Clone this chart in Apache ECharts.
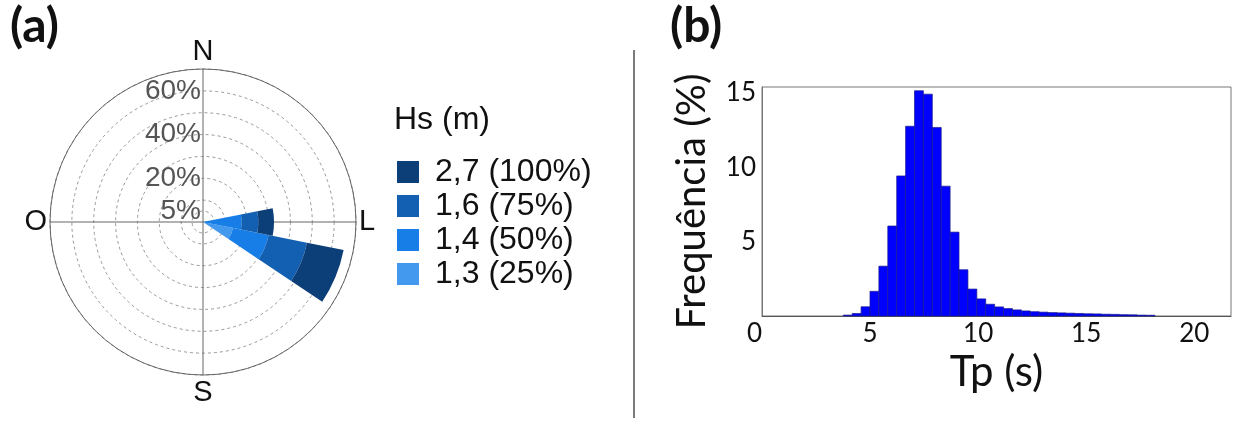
<!DOCTYPE html>
<html>
<head>
<meta charset="utf-8">
<script src="https://cdn.jsdelivr.net/npm/echarts@6/dist/echarts.min.js"></script>
<style>
    html, body { margin: 0; padding: 0; background: #fff; }
    #chart { width: 1243px; height: 431px; }
</style>
</head>
<body>
<div id="chart"></div>
<script>
// (a) rosa de ondas - direções e classes de Hs (% de ocorrência)
const directions = ['N', 'NNE', 'NE', 'ENE', 'E', 'ESE', 'SE', 'SSE', 'S', 'SSW', 'SW', 'WSW', 'W', 'WNW', 'NW', 'NNW'];
const hsClasses = ['1,3 (25%)', '1,4 (50%)', '1,6 (75%)', '2,7 (100%)'];
const hs13 = [0, 0, 0, 0, 1.0, 14.0, 0, 0, 0, 0, 0, 0, 0, 0, 0, 0];
const hs14 = [0, 0, 0, 0, 16.7, 16.6, 0, 0, 0, 0, 0, 0, 0, 0, 0, 0];
const hs16 = [0, 0, 0, 0, 7.6, 17.9, 0, 0, 0, 0, 0, 0, 0, 0, 0, 0];
const hs27 = [0, 0, 0, 0, 7.2, 17.1, 0, 0, 0, 0, 0, 0, 0, 0, 0, 0];
const radiusLabels = [5, 20, 40, 60];
const compassLabels = ['N', 'L', 'S', 'O'];

// (b) histograma de Tp
const tpStart = 3.76;
const tpBinWidth = 0.412;
const tpFreq = [0.06, 0.17, 0.62, 1.66, 3.35, 6.05, 9.42, 12.76, 15.15, 14.92,
    12.68, 8.73, 5.64, 3.11, 1.81, 1.15, 0.79, 0.61, 0.50, 0.41,
    0.34, 0.29, 0.26, 0.23, 0.21, 0.19, 0.17, 0.15, 0.14, 0.12,
    0.11, 0.09, 0.08, 0.06, 0.05];
const xTicks = [0, 5, 10, 15, 20];
const yTicks = [5, 10, 15];

const hsColors = {
    '1,3 (25%)': '#4299ee',
    '1,4 (50%)': '#167ee6',
    '1,6 (75%)': '#1360b2',
    '2,7 (100%)': '#0c3e78'
};
const hsValues = [hs13, hs14, hs16, hs27];

const roseCenter = [203, 222];
const roseRadius = 153;
const roseMax = 70;

const tpData = tpFreq.map(function (v, i) {
    return [tpStart + i * tpBinWidth, tpStart + (i + 1) * tpBinWidth, v];
});

let myChart = echarts.init(document.getElementById('chart'));

const option = {
    backgroundColor: '#fff',
    animation: false,
    title: [
        {text: '(a)', left: 5, top: -2, textStyle: {fontFamily: 'Lato', fontWeight: 'bold', fontSize: 48, color: '#111'}},
        {text: '(b)', left: 665, top: -2, textStyle: {fontFamily: 'Lato', fontWeight: 'bold', fontSize: 48, color: '#111'}},
        {text: 'Hs (m)', left: 389, top: 99, textStyle: {fontFamily: 'Liberation Sans', fontWeight: 'normal', fontSize: 32, color: '#111'}}
    ],
    legend: {
        data: hsClasses.slice().reverse(),
        orient: 'vertical',
        left: 392,
        top: 151,
        icon: 'rect',
        itemWidth: 22,
        itemHeight: 22,
        itemGap: 2,
        textStyle: {fontFamily: 'Liberation Sans', fontSize: 32, color: '#111', lineHeight: 32, padding: [0, 0, 0, 11]}
    },
    polar: [
        {center: roseCenter, radius: roseRadius},
        {center: roseCenter, radius: roseRadius},
        {center: roseCenter, radius: roseRadius * 5 / roseMax}
    ],
    angleAxis: [
        {
            polarIndex: 0,
            type: 'category',
            data: directions,
            startAngle: 90 + 360 / directions.length / 2,
            axisLine: {show: false},
            axisTick: {show: false},
            axisLabel: {show: false},
            splitLine: {show: false}
        },
        {
            polarIndex: 1,
            type: 'value',
            min: 0,
            max: 360,
            interval: 90,
            startAngle: 90,
            axisLine: {lineStyle: {color: '#666', width: 1}},
            axisTick: {show: false},
            splitLine: {show: true, lineStyle: {color: '#666', width: 1}},
            axisLabel: {
                margin: 3,
                fontFamily: 'Liberation Sans',
                fontSize: 29,
                color: '#111',
                formatter: function (v) {
                    return v < 360 ? compassLabels[v / 90] : '';
                }
            }
        },
        {
            polarIndex: 2,
            type: 'value',
            min: 0,
            max: 360,
            startAngle: 90,
            axisLine: {lineStyle: {color: '#999', width: 1, type: [3, 3]}},
            axisTick: {show: false},
            axisLabel: {show: false},
            splitLine: {show: false}
        }
    ],
    radiusAxis: [
        {
            polarIndex: 0,
            min: 0,
            max: roseMax,
            interval: 10,
            axisLine: {show: false},
            axisTick: {show: false},
            axisLabel: {show: false},
            splitLine: {show: true, lineStyle: {color: '#999', width: 1, type: [3, 3]}}
        },
        {
            polarIndex: 1,
            min: 0,
            max: roseMax,
            interval: 5,
            axisLine: {show: false},
            axisTick: {show: false},
            splitLine: {show: false},
            axisLabel: {
                margin: 2,
                fontFamily: 'Liberation Sans',
                fontSize: 28,
                color: '#555',
                formatter: function (v) {
                    return radiusLabels.indexOf(v) >= 0 ? v + '%' : '';
                }
            }
        },
        {
            polarIndex: 2,
            min: 0,
            max: 5,
            axisLine: {show: false},
            axisTick: {show: false},
            axisLabel: {show: false},
            splitLine: {show: false}
        }
    ],
    grid: {
        left: 762,
        right: 12,
        top: 87,
        bottom: 115,
        show: true,
        borderColor: '#777',
        borderWidth: 1
    },
    xAxis: {
        type: 'value',
        min: 0,
        max: 21.7,
        interval: 5,
        name: 'Tp (s)',
        nameLocation: 'middle',
        nameGap: 34,
        nameTextStyle: {fontFamily: 'Lato', fontSize: 42, color: '#111'},
        axisLine: {show: true, lineStyle: {color: '#555'}},
        axisTick: {show: false},
        splitLine: {show: false},
        axisLabel: {
            margin: 5,
            fontFamily: 'Lato',
            fontSize: 26,
            color: '#111',
            alignMinLabel: 'right',
            formatter: function (v) {
                return xTicks.indexOf(v) >= 0 ? String(v) : '';
            }
        }
    },
    yAxis: {
        type: 'value',
        min: 0,
        max: 15.4,
        interval: 5,
        name: 'Frequência (%)',
        nameLocation: 'middle',
        nameGap: 50,
        nameTextStyle: {fontFamily: 'Lato', fontSize: 40, color: '#111'},
        axisLine: {show: true, lineStyle: {color: '#777'}},
        axisTick: {show: false},
        splitLine: {show: false},
        axisLabel: {
            margin: 6,
            fontFamily: 'Lato',
            fontSize: 26,
            color: '#111',
            formatter: function (v) {
                return yTicks.indexOf(v) >= 0 ? String(v) : '';
            }
        }
    },
    series: hsClasses.map(function (name, i) {
        return {
            name: name,
            type: 'bar',
            coordinateSystem: 'polar',
            polarIndex: 0,
            stack: 'hs',
            barCategoryGap: '0%',
            itemStyle: {color: hsColors[name]},
            data: hsValues[i]
        };
    }).concat([{
        name: 'Tp',
        type: 'custom',
        xAxisIndex: 0,
        yAxisIndex: 0,
        data: tpData,
        renderItem: function (params, api) {
            const p0 = api.coord([api.value(0), api.value(2)]);
            const p1 = api.coord([api.value(1), 0]);
            return {
                type: 'rect',
                shape: {x: p0[0], y: p0[1], width: p1[0] - p0[0], height: p1[1] - p0[1]},
                style: {fill: '#0000ff', stroke: '#1a1a8c', lineWidth: 0.7}
            };
        }
    }]),
    graphic: [
        {
            type: 'line',
            shape: {x1: 634, y1: 50, x2: 634, y2: 418},
            style: {stroke: '#222', lineWidth: 1.2}
        }
    ]
};

myChart.setOption(option);
</script>
</body>
</html>
